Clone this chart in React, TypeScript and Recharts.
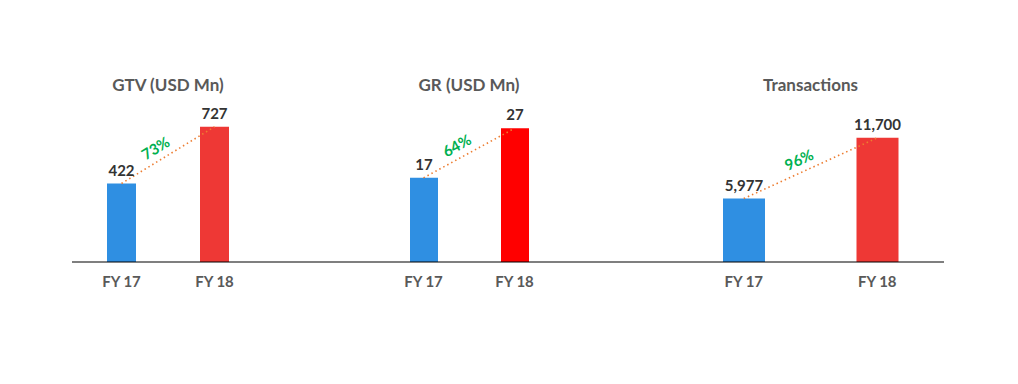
import React from "react";
import { ComposedChart, Bar, Line, XAxis, YAxis, Cell, LabelList } from "recharts";

const categories = ["FY 17", "FY 18"];
const titles = ["GTV (USD Mn)", "GR (USD Mn)", "Transactions"];
const gtvValues = [422, 727];
const grValues = [17, 27];
const txnValues = [5977, 11700];
const growthLabels = ["73%", "64%", "96%"];
const yMax = [1000, 40, 18000];

const FONT = "Lato, 'Open Sans', sans-serif";
const BLUE = "#2F8FE2";

const panels = [
  { values: gtvValues, left: 72, width: 248, top: 76, padL: 3, padR: 59, barSize: 29, colors: [BLUE, "#EE3835"] },
  { values: grValues, left: 320, width: 300, top: 64, padL: 58, padR: 60, barSize: 28, colors: [BLUE, "#FF0000"] },
  { values: txnValues, left: 620, width: 324, top: 71, padL: 57, padR: 0, barSize: 42, colors: [BLUE, "#EE3835"] },
];

const BASELINE = 262;
const CHART_H = 384;
const XAXIS_H = 30;

function makeGrowthDot(label: string) {
  const pts: { cx: number; cy: number }[] = [];
  return (props: any) => {
    const { cx, cy, index } = props;
    pts[index] = { cx, cy };
    if (index === 1 && pts[0]) {
      const a = pts[0];
      const mx = (a.cx + cx) / 2;
      const my = (a.cy + cy) / 2;
      const ang = (Math.atan2(cy - a.cy, cx - a.cx) * 180) / Math.PI;
      return (
        <g key={`g-${index}`} transform={`translate(${mx},${my}) rotate(${ang})`}>
          <text x={-7} y={-7} textAnchor="middle" fill="#00B050" fontSize={15} fontWeight={700} fontFamily={FONT}>
            {label}
          </text>
        </g>
      );
    }
    return <g key={`g-${index}`} />;
  };
}

function Panel({ p, i }: { p: any; i: number }) {
  const data = categories.map((c, k) => ({ name: c, value: p.values[k] }));
  const marginBottom = CHART_H - BASELINE - XAXIS_H;
  return (
    <div style={{ position: "absolute", left: p.left, top: 0 }}>
      <ComposedChart
        width={p.width}
        height={CHART_H}
        data={data}
        margin={{ top: p.top, right: 0, bottom: marginBottom, left: 0 }}
      >
        <XAxis
          dataKey="name"
          height={XAXIS_H}
          padding={{ left: p.padL, right: p.padR }}
          axisLine={{ stroke: "#000", strokeWidth: 1.2 }}
          tickLine={false}
          tickMargin={8}
          tick={{ fill: "#595959", fontSize: 15, fontWeight: 700, fontFamily: FONT }}
          interval={0}
        />
        <YAxis hide domain={[0, yMax[i]]} />
        <Bar dataKey="value" barSize={p.barSize} isAnimationActive={false}>
          {data.map((d, k) => (
            <Cell key={d.name} fill={p.colors[k]} />
          ))}
          <LabelList
            dataKey="value"
            position="top"
            offset={8}
            formatter={(v: any) => Number(v).toLocaleString("en-US")}
            style={{ fill: "#333333", fontSize: 15, fontWeight: 700, fontFamily: FONT }}
          />
        </Bar>
        <Line
          dataKey="value"
          type="linear"
          stroke="#ED7D31"
          strokeWidth={1.6}
          strokeDasharray="1.5 3"
          dot={makeGrowthDot(growthLabels[i])}
          activeDot={false}
          isAnimationActive={false}
        />
      </ComposedChart>
    </div>
  );
}

export default function App() {
  return (
    <div style={{ position: "absolute", left: 0, top: 0, width: 1018, height: 384, background: "#fff" }}>
      {panels.map((p, i) => {
        const center = p.left + p.padL + (p.width - p.padL - p.padR) / 2;
        return (
          <div
            key={titles[i]}
            style={{
              position: "absolute",
              left: center - 120,
              width: 240,
              top: 74,
              lineHeight: "22px",
              textAlign: "center",
              fontFamily: FONT,
              fontWeight: 700,
              fontSize: 17,
              color: "#595959",
            }}
          >
            {titles[i]}
          </div>
        );
      })}
      {panels.map((p, i) => (
        <Panel key={i} p={p} i={i} />
      ))}
    </div>
  );
}
